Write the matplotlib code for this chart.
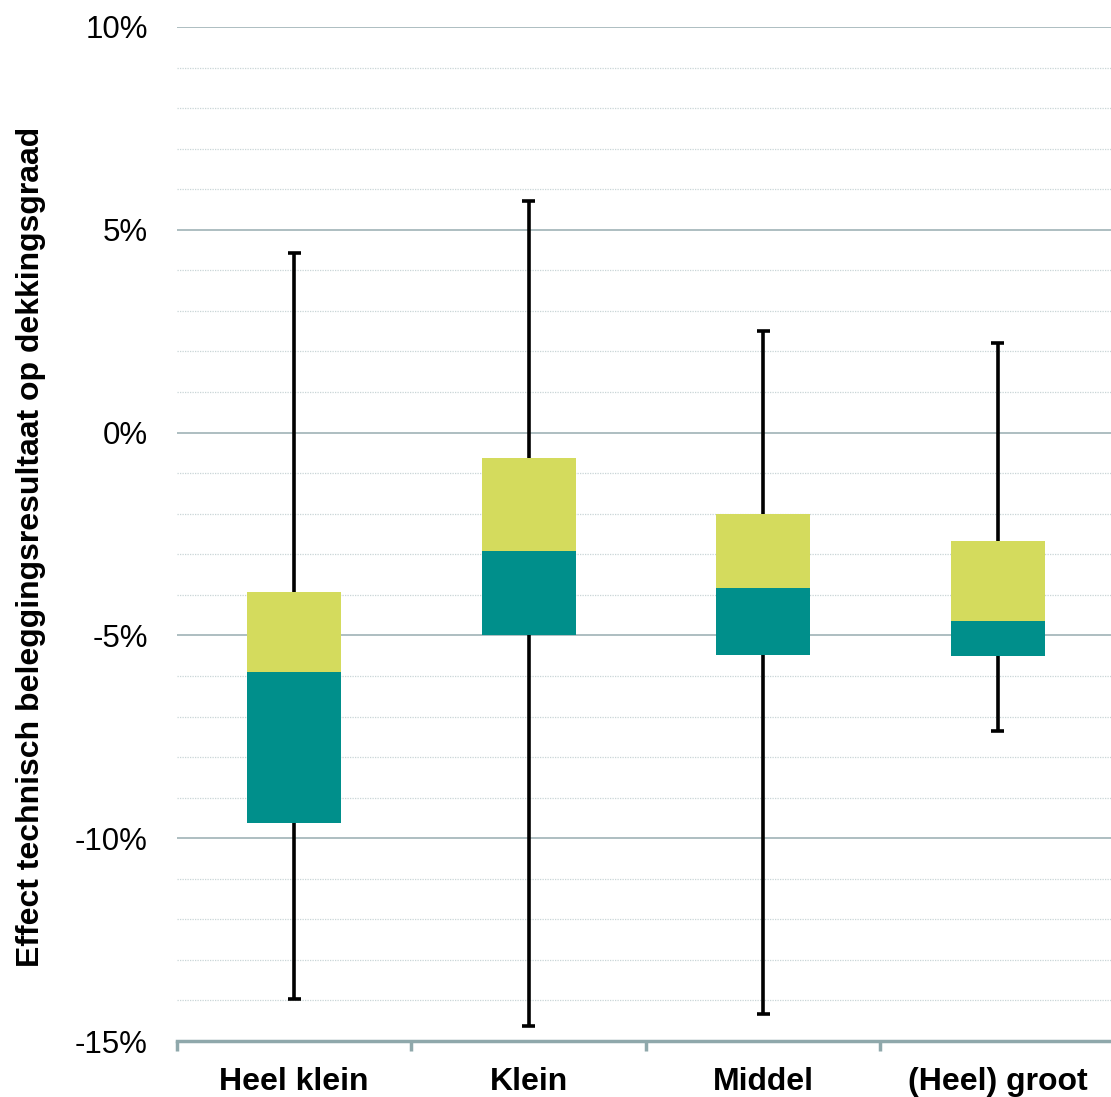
import numpy as np
import matplotlib.pyplot as plt
from matplotlib.ticker import MultipleLocator, FixedLocator

plt.rcParams['font.family'] = ['Liberation Sans', 'DejaVu Sans']

# Data (percent)
categories = ['Heel klein', 'Klein', 'Middel', '(Heel) groot']
whisker_low = [-13.97, -14.63, -14.33, -7.36]
q1 = [-9.63, -4.99, -5.48, -5.51]
median = [-5.90, -2.92, -3.83, -4.65]
q3 = [-3.93, -0.63, -2.01, -2.67]
whisker_high = [4.43, 5.70, 2.50, 2.21]

teal = '#008f8b'
lime = '#d4db5d'

fig = plt.figure(figsize=(11.11, 10.97), dpi=100)
ax = fig.add_axes([0.1593, 0.0510, 0.8443, 0.9244])

x = np.arange(len(categories))
q1 = np.array(q1); median = np.array(median); q3 = np.array(q3)
lo = np.array(whisker_low); hi = np.array(whisker_high)

# whiskers
ax.vlines(x, lo, hi, color='black', lw=2.6, zorder=3)
ax.hlines(lo, x - 0.027, x + 0.027, color='black', lw=2.6, zorder=3)
ax.hlines(hi, x - 0.027, x + 0.027, color='black', lw=2.6, zorder=3)

# boxes
ax.bar(x, median - q1, bottom=q1, width=0.4, color=teal, zorder=4)
ax.bar(x, q3 - median, bottom=median, width=0.4, color=lime, zorder=4)

ax.set_xlim(-0.5, 3.5)
ax.set_ylim(-15, 10)

ax.yaxis.set_major_locator(MultipleLocator(5))
ax.yaxis.set_minor_locator(MultipleLocator(1))
ax.yaxis.set_major_formatter(plt.FuncFormatter(lambda v, p: f'{int(round(v))}%'))
ax.grid(axis='y', which='major', color='#9fb3b6', lw=1.2, zorder=0)
ax.grid(axis='y', which='minor', color='#c9d5d7', lw=0.9, ls=(0, (1, 1)), zorder=0)
ax.tick_params(axis='y', which='both', length=0, pad=21, labelsize=22.5)

ax.xaxis.set_major_locator(FixedLocator([-0.5, 0.5, 1.5, 2.5, 3.5]))
ax.xaxis.set_minor_locator(FixedLocator(x))
ax.set_xticklabels([], minor=False)
ax.set_xticklabels(categories, minor=True, fontweight='bold', fontsize=23)
ax.tick_params(axis='x', which='major', length=7, width=2.5, color='#8fa8ab')
ax.tick_params(axis='x', which='minor', length=0, pad=19)

for s in ['top', 'right', 'left']:
    ax.spines[s].set_visible(False)
ax.spines['bottom'].set_color('#8fa8ab')
ax.spines['bottom'].set_linewidth(2.5)
ax.spines['bottom'].set_zorder(5)

ax.set_ylabel('Effect technisch beleggingsresultaat op dekkingsgraad',
              fontsize=23, fontweight='bold')
ax.yaxis.set_label_coords(-0.140, 0.487)

fig.savefig('out.png', dpi=100)
